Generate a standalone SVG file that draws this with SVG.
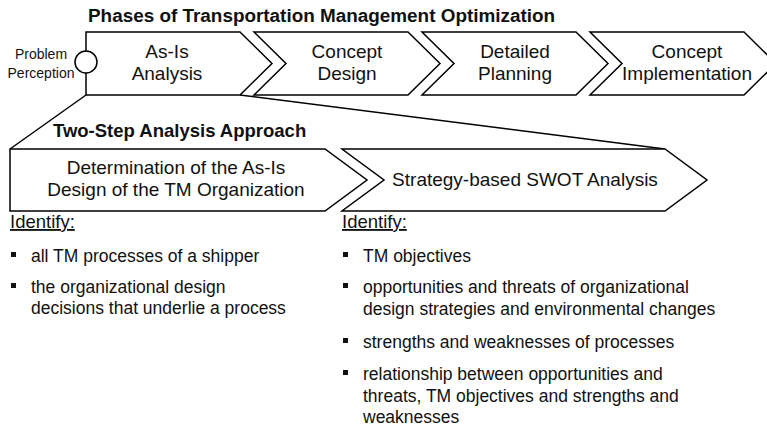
<svg xmlns="http://www.w3.org/2000/svg" width="767" height="428" viewBox="0 0 767 428">
<style>
  .shape { fill: #fff; stroke: #000; stroke-width: 1.5; stroke-linejoin: miter; }
  .conn { stroke: #000; stroke-width: 1.5; fill: none; }
  text { font-family: "Liberation Sans", Arial, sans-serif; fill: #111; }
  .title { font-weight: bold; font-size: 18.9px; }
  .title2 { font-weight: bold; font-size: 18.5px; }
  .lbl { font-size: 19px; text-anchor: middle; }
  .small { font-size: 14px; text-anchor: middle; }
  .body { font-size: 17.5px; }
  .ident { font-size: 18.5px; text-decoration: underline; }
  .bullet { fill: #111; }
</style>
<rect width="767" height="428" fill="#fff"/>
<text class="title" x="88" y="22">Phases of Transportation Management Optimization</text>

<g id="connectors">
  <line class="conn" x1="86" y1="95" x2="10" y2="149"/>
  <line class="conn" x1="240" y1="95" x2="665" y2="149"/>
</g>

<g id="as-is-analysis">
  <polygon class="shape" points="86,32 240,32 272,63.5 240,95 86,95"/>
  <text class="lbl" x="167" y="58">As-Is</text>
  <text class="lbl" x="167" y="80">Analysis</text>
</g>
<g id="problem-perception">
  <circle class="shape" cx="86" cy="62" r="11"/>
  <text class="small" x="41" y="59">Problem</text>
  <text class="small" x="41" y="78">Perception</text>
</g>
<g id="concept-design">
  <polygon class="shape" points="254,32 408,32 440,63.5 408,95 254,95 286,63.5"/>
  <text class="lbl" x="347" y="58">Concept</text>
  <text class="lbl" x="347" y="80">Design</text>
</g>
<g id="detailed-planning">
  <polygon class="shape" points="422,32 576,32 608,63.5 576,95 422,95 454,63.5"/>
  <text class="lbl" x="515" y="58">Detailed</text>
  <text class="lbl" x="515" y="80">Planning</text>
</g>
<g id="concept-implementation">
  <polygon class="shape" points="590,32 744,32 776,63.5 744,95 590,95 622,63.5"/>
  <text class="lbl" x="687" y="58">Concept</text>
  <text class="lbl" x="687" y="80">Implementation</text>
</g>

<text class="title2" x="53" y="137">Two-Step Analysis Approach</text>

<g id="determination">
  <polygon class="shape" points="10,149 325,149 367,180 325,211 10,211"/>
  <text class="lbl" x="176" y="174">Determination of the As-Is</text>
  <text class="lbl" x="176" y="196">Design of the TM Organization</text>
</g>
<g id="swot">
  <polygon class="shape" points="342,149 665,149 707,180 665,211 342,211 384,180"/>
  <text class="lbl" x="525" y="186">Strategy-based SWOT Analysis</text>
</g>

<g id="left-list">
  <text class="ident" x="10" y="228">Identify:</text>
  <rect class="bullet" x="11" y="252" width="5" height="5"/>
  <text class="body" x="31" y="262">all TM processes of a shipper</text>
  <rect class="bullet" x="11" y="283" width="5" height="5"/>
  <text class="body" x="31" y="293">the organizational design</text>
  <text class="body" x="31" y="314">decisions that underlie a process</text>
</g>

<g id="right-list">
  <text class="ident" x="342" y="228">Identify:</text>
  <rect class="bullet" x="343" y="252" width="5" height="5"/>
  <text class="body" x="363" y="262">TM objectives</text>
  <rect class="bullet" x="343" y="283" width="5" height="5"/>
  <text class="body" x="363" y="293">opportunities and threats of organizational</text>
  <text class="body" x="363" y="315">design strategies and environmental changes</text>
  <rect class="bullet" x="343" y="338" width="5" height="5"/>
  <text class="body" x="363" y="348">strengths and weaknesses of processes</text>
  <rect class="bullet" x="343" y="370" width="5" height="5"/>
  <text class="body" x="363" y="380">relationship between opportunities and</text>
  <text class="body" x="363" y="402">threats, TM objectives and strengths and</text>
  <text class="body" x="363" y="423">weaknesses</text>
</g>
</svg>
